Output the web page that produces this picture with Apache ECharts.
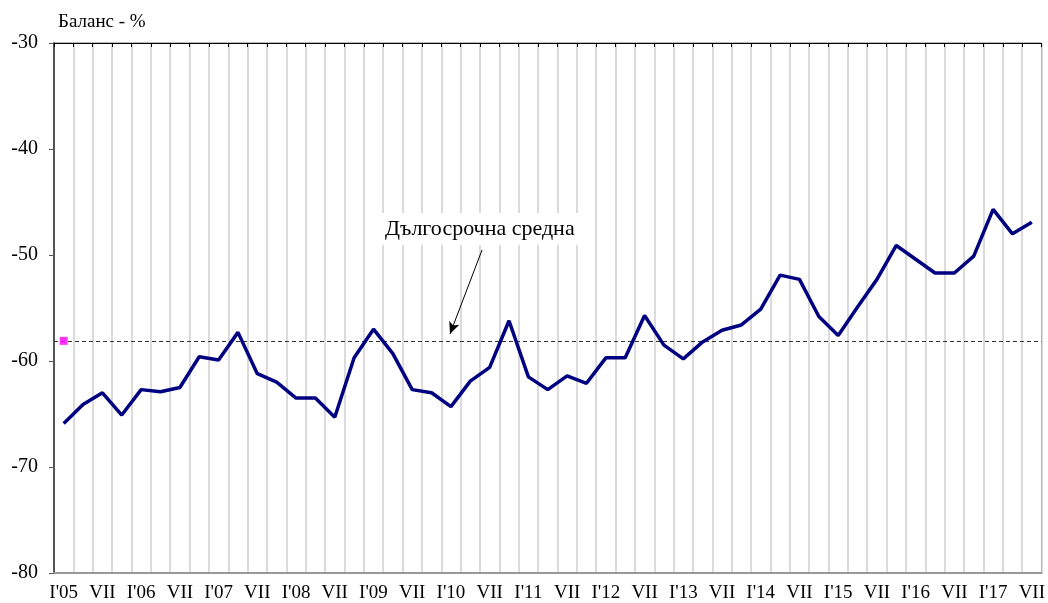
<!DOCTYPE html>
<html>
<head>
<meta charset="utf-8">
<script src="https://cdn.jsdelivr.net/npm/echarts@6/dist/echarts.min.js"></script>
<style>
  html, body { margin: 0; padding: 0; background: #fff; }
  #chart { width: 1048px; height: 603px; }
</style>
</head>
<body>
<div id="chart"></div>
<script>
  // quarters I'05 .. VII'17
  var quarters = [
    "I'05", 'IV', 'VII', 'X', "I'06", 'IV', 'VII', 'X', "I'07", 'IV', 'VII', 'X',
    "I'08", 'IV', 'VII', 'X', "I'09", 'IV', 'VII', 'X', "I'10", 'IV', 'VII', 'X',
    "I'11", 'IV', 'VII', 'X', "I'12", 'IV', 'VII', 'X', "I'13", 'IV', 'VII', 'X',
    "I'14", 'IV', 'VII', 'X', "I'15", 'IV', 'VII', 'X', "I'16", 'IV', 'VII', 'X',
    "I'17", 'IV', 'VII'
  ];
  var balance = [
    -65.9, -64.1, -63.0, -65.1, -62.7, -62.9, -62.5, -59.6, -59.9, -57.3,
    -61.2, -62.0, -63.5, -63.5, -65.3, -59.7, -57.0, -59.3, -62.7, -63.0,
    -64.3, -61.9, -60.6, -56.2, -61.5, -62.7, -61.4, -62.1, -59.7, -59.7,
    -55.7, -58.5, -59.8, -58.2, -57.1, -56.6, -55.1, -51.9, -52.3, -55.8,
    -57.6, -54.9, -52.3, -49.1, -50.4, -51.7, -51.7, -50.1, -45.7, -48.0,
    -46.9
  ];
  var longTermAvg = -58.1;
  var avgLabel = 'Дългосрочна средна';
  var yTicks = { min: -80, max: -30, interval: 10 };

  var serif = 'Liberation Serif';
  var dom = document.getElementById('chart');
  var myChart = echarts.init(dom, null, { renderer: 'canvas' });

  var option = {
    animation: false,
    textStyle: { fontFamily: serif },
    grid: {
      left: 54,
      right: 5,
      top: 43,
      bottom: 28,
      show: true,
      borderColor: '#777',
      borderWidth: 1
    },
    xAxis: [
      {
        type: 'category',
        data: quarters,
        boundaryGap: true,
        axisLine: { lineStyle: { color: '#999', width: 2 } },
        axisTick: { show: false },
        axisLabel: {
          interval: 1,
          margin: 11,
          color: '#000',
          fontFamily: serif,
          fontSize: 19
        },
        splitLine: {
          show: true,
          interval: 0,
          lineStyle: { color: '#cfcfcf', width: 1.5 }
        }
      },
      {
        type: 'category',
        data: quarters,
        position: 'top',
        boundaryGap: true,
        axisLine: { lineStyle: { color: '#000', width: 1 } },
        axisTick: { show: true, inside: true, interval: 0, length: 4, lineStyle: { color: '#000' } },
        axisLabel: { show: false },
        splitLine: { show: false }
      }
    ],
    yAxis: {
      type: 'value',
      min: yTicks.min,
      max: yTicks.max,
      interval: yTicks.interval,
      name: 'Баланс - %',
      nameLocation: 'end',
      nameGap: 11,
      nameTextStyle: {
        color: '#000',
        fontFamily: serif,
        fontSize: 19,
        align: 'left',
        padding: [0, 0, 0, 4]
      },
      axisLine: { show: true, lineStyle: { color: '#555', width: 2 } },
      axisTick: { show: true, length: 5, lineStyle: { color: '#555' } },
      axisLabel: { color: '#000', fontFamily: serif, fontSize: 20, margin: 16 },
      splitLine: { show: false }
    },
    series: [
      {
        type: 'line',
        data: balance,
        symbol: 'none',
        lineStyle: { color: '#000080', width: 3.5 },
        z: 5,
        markLine: {
          silent: true,
          symbol: 'none',
          label: { show: false },
          lineStyle: { color: '#333', width: 1, type: [4, 3] },
          data: [{ yAxis: longTermAvg }]
        }
      },
      {
        type: 'scatter',
        data: [[0, longTermAvg]],
        symbol: 'rect',
        symbolSize: 8,
        itemStyle: { color: '#ff00ff' },
        z: 6
      },
      {
        // arrow pointing at the long-term average
        type: 'line',
        data: [],
        markLine: {
          silent: true,
          symbol: ['none', 'arrow'],
          symbolSize: [8, 12],
          label: { show: false },
          lineStyle: { color: '#000', width: 1, type: 'solid' },
          data: [[{ x: 482, y: 250 }, { x: 450, y: 334 }]]
        }
      }
    ],
    graphic: [
      {
        type: 'text',
        left: 379,
        top: 213,
        z: 10,
        style: {
          text: avgLabel,
          fill: '#000',
          font: '22px "Liberation Serif"',
          backgroundColor: '#fff',
          padding: [5, 14, 5, 6]
        }
      }
    ]
  };

  myChart.setOption(option);
</script>
</body>
</html>
